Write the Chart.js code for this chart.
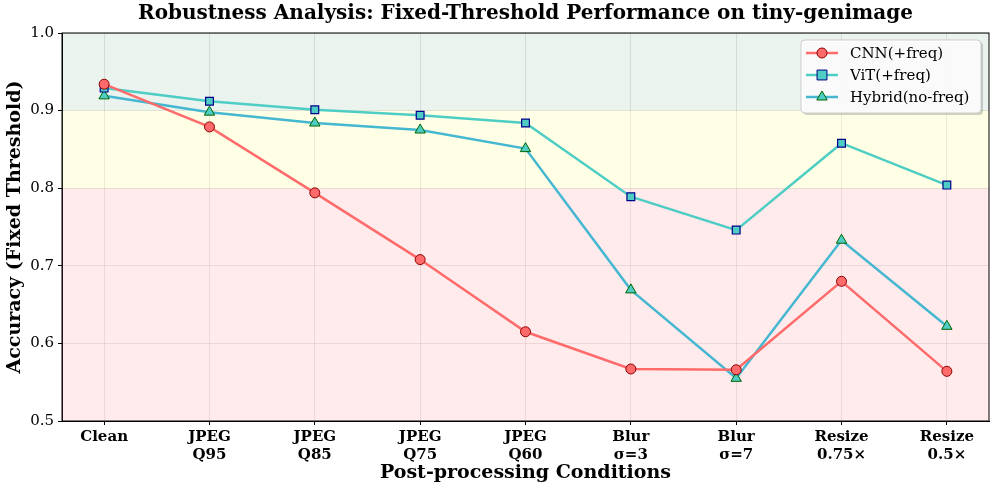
<!DOCTYPE html>
<html>
<head>
<meta charset="utf-8">
<script src="https://cdn.jsdelivr.net/npm/chart.js@4"></script>
<style>
  html, body { margin: 0; padding: 0; background: #fff; }
  #wrap { width: 996px; height: 489px; }
</style>
</head>
<body>
<div id="wrap"><canvas id="robustChart" width="996" height="489"></canvas></div>
<script>
// conditions on the x axis (multi-line labels)
const conditions = [
  ["Clean"], ["JPEG", "Q95"], ["JPEG", "Q85"], ["JPEG", "Q75"], ["JPEG", "Q60"],
  ["Blur", "σ=3"], ["Blur", "σ=7"], ["Resize", "0.75×"], ["Resize", "0.5×"]
];

// accuracy at fixed threshold
const cnnFreq = [0.934, 0.879, 0.794, 0.708, 0.615, 0.567, 0.566, 0.680, 0.564];
const vitFreq = [0.929, 0.912, 0.901, 0.894, 0.884, 0.789, 0.746, 0.858, 0.804];
const hybridNoFreq = [0.919, 0.898, 0.884, 0.875, 0.851, 0.669, 0.555, 0.733, 0.622];

const yTicks = [0.5, 0.6, 0.7, 0.8, 0.9, 1.0];

// shaded accuracy zones
const bands = [
  { from: 0.9, to: 1.0, color: "rgba(46,139,87,0.1)" },
  { from: 0.8, to: 0.9, color: "rgba(255,255,153,0.25)" },
  { from: 0.5, to: 0.8, color: "rgba(255,160,170,0.22)" }
];

const FONT = "'DejaVu Serif', serif";

const toPoints = arr => arr.map((v, i) => ({ x: i, y: v }));

const bandPlugin = {
  id: "bands",
  beforeDatasetsDraw(chart) {
    const { ctx, chartArea: a, scales: { y } } = chart;
    ctx.save();
    bands.forEach(b => {
      const top = y.getPixelForValue(b.to);
      const bot = y.getPixelForValue(b.from);
      ctx.fillStyle = b.color;
      ctx.fillRect(a.left, top, a.right - a.left, bot - top);
    });
    ctx.restore();
  }
};

// legend drawn inside the plot, upper right
const legendPlugin = {
  id: "boxLegend",
  afterDraw(chart) {
    const { ctx, chartArea: a } = chart;
    const w = 180, h = 73;
    const x0 = a.right - w - 8, y0 = a.top + 7;
    ctx.save();
    ctx.fillStyle = "rgba(0,0,0,0.18)";
    roundRect(ctx, x0 + 2, y0 + 2, w, h, 4); ctx.fill();
    ctx.fillStyle = "rgba(255,255,255,0.92)";
    ctx.strokeStyle = "#cccccc";
    ctx.lineWidth = 1;
    roundRect(ctx, x0, y0, w, h, 4); ctx.fill(); ctx.stroke();
    ctx.font = "15px " + FONT;
    ctx.textBaseline = "middle";
    chart.data.datasets.forEach((ds, i) => {
      const yy = y0 + 13 + i * 22;
      ctx.strokeStyle = ds.borderColor;
      ctx.lineWidth = 2.5;
      ctx.beginPath(); ctx.moveTo(x0 + 5, yy); ctx.lineTo(x0 + 37, yy); ctx.stroke();
      ctx.fillStyle = ds.pointBackgroundColor;
      ctx.strokeStyle = ds.pointBorderColor;
      ctx.lineWidth = 1;
      drawMarker(ctx, ds.pointStyle, x0 + 21, yy, ds.pointRadius);
      ctx.fillStyle = "#000";
      ctx.fillText(ds.label, x0 + 49, yy + 1);
    });
    ctx.restore();
  }
};

function roundRect(ctx, x, y, w, h, r) {
  ctx.beginPath();
  ctx.moveTo(x + r, y);
  ctx.arcTo(x + w, y, x + w, y + h, r);
  ctx.arcTo(x + w, y + h, x, y + h, r);
  ctx.arcTo(x, y + h, x, y, r);
  ctx.arcTo(x, y, x + w, y, r);
  ctx.closePath();
}

function drawMarker(ctx, style, x, y, r) {
  ctx.beginPath();
  if (style === "circle") {
    ctx.arc(x, y, r, 0, Math.PI * 2);
  } else if (style === "rect") {
    const s = r * 0.9;
    ctx.rect(x - s, y - s, 2 * s, 2 * s);
  } else {
    ctx.moveTo(x, y - r);
    ctx.lineTo(x + r * 0.87, y + r * 0.5);
    ctx.lineTo(x - r * 0.87, y + r * 0.5);
    ctx.closePath();
  }
  ctx.fill(); ctx.stroke();
}

new Chart(document.getElementById("robustChart"), {
  type: "line",
  data: {
    datasets: [{
      label: "CNN(+freq)",
      data: toPoints(cnnFreq),
      borderColor: "#FF6B6B",
      borderWidth: 2.5,
      pointStyle: "circle",
      pointRadius: 5,
      pointBackgroundColor: "#FF6B6B",
      pointBorderColor: "#8B0000",
      pointBorderWidth: 1
    }, {
      label: "ViT(+freq)",
      data: toPoints(vitFreq),
      borderColor: "#4ECDC4",
      borderWidth: 2.5,
      pointStyle: "rect",
      pointRadius: 5.5,
      pointBackgroundColor: "#4ECDC4",
      pointBorderColor: "#00008B",
      pointBorderWidth: 1.2
    }, {
      label: "Hybrid(no-freq)",
      data: toPoints(hybridNoFreq),
      borderColor: "#45B7D1",
      borderWidth: 2.5,
      pointStyle: "triangle",
      pointRadius: 6,
      pointBackgroundColor: "#4ECDC4",
      pointBorderColor: "#006400",
      pointBorderWidth: 1
    }]
  },
  options: {
    responsive: false,
    animation: false,
    layout: { padding: { left: 4, right: 6, top: 0, bottom: 0 } },
    plugins: {
      legend: { display: false },
      tooltip: { enabled: false },
      title: {
        display: true,
        fullSize: false,
        text: "Robustness Analysis: Fixed-Threshold Performance on tiny-genimage",
        color: "#000",
        font: { family: FONT, size: 20, weight: "bold", lineHeight: 1.2 },
        padding: { top: 2, bottom: 7 }
      }
    },
    scales: {
      x: {
        type: "linear",
        min: -0.4,
        max: 8.4,
        afterBuildTicks(scale) {
          scale.ticks = conditions.map((_, i) => ({ value: i }));
        },
        afterFit(scale) { scale.height = 68; },
        ticks: {
          autoSkip: false,
          maxRotation: 0,
          color: "#000",
          font: { family: FONT, size: 15, weight: "bold", lineHeight: 1.2 },
          padding: 3,
          callback: v => conditions[v]
        },
        grid: { color: "rgba(0,0,0,0.1)", tickColor: "#000", tickLength: 4 },
        border: { color: "#000", width: 1 },
        title: {
          display: true,
          text: "Post-processing Conditions",
          color: "#000",
          font: { family: FONT, size: 19, weight: "bold" },
          padding: { top: 0, bottom: 5 }
        }
      },
      y: {
        min: 0.5,
        max: 1.0,
        afterBuildTicks(scale) {
          scale.ticks = yTicks.map(v => ({ value: v }));
        },
        afterFit(scale) { scale.width = 58; },
        ticks: {
          color: "#000",
          font: { family: FONT, size: 15 },
          padding: 4,
          callback: v => v.toFixed(1)
        },
        grid: { color: "rgba(0,0,0,0.1)", tickColor: "#000", tickLength: 4 },
        border: { color: "#000", width: 1 },
        title: {
          display: true,
          text: "Accuracy (Fixed Threshold)",
          color: "#000",
          font: { family: FONT, size: 19, weight: "bold" },
          padding: { top: 0, bottom: 0 }
        }
      }
    }
  },
  plugins: [bandPlugin, legendPlugin, {
    id: "frame",
    afterDatasetsDraw(chart) {
      const { ctx, chartArea: a } = chart;
      ctx.save();
      ctx.strokeStyle = "#000";
      ctx.lineWidth = 1;
      ctx.strokeRect(a.left, a.top, a.right - a.left, a.bottom - a.top);
      ctx.restore();
    }
  }]
});
</script>
</body>
</html>
